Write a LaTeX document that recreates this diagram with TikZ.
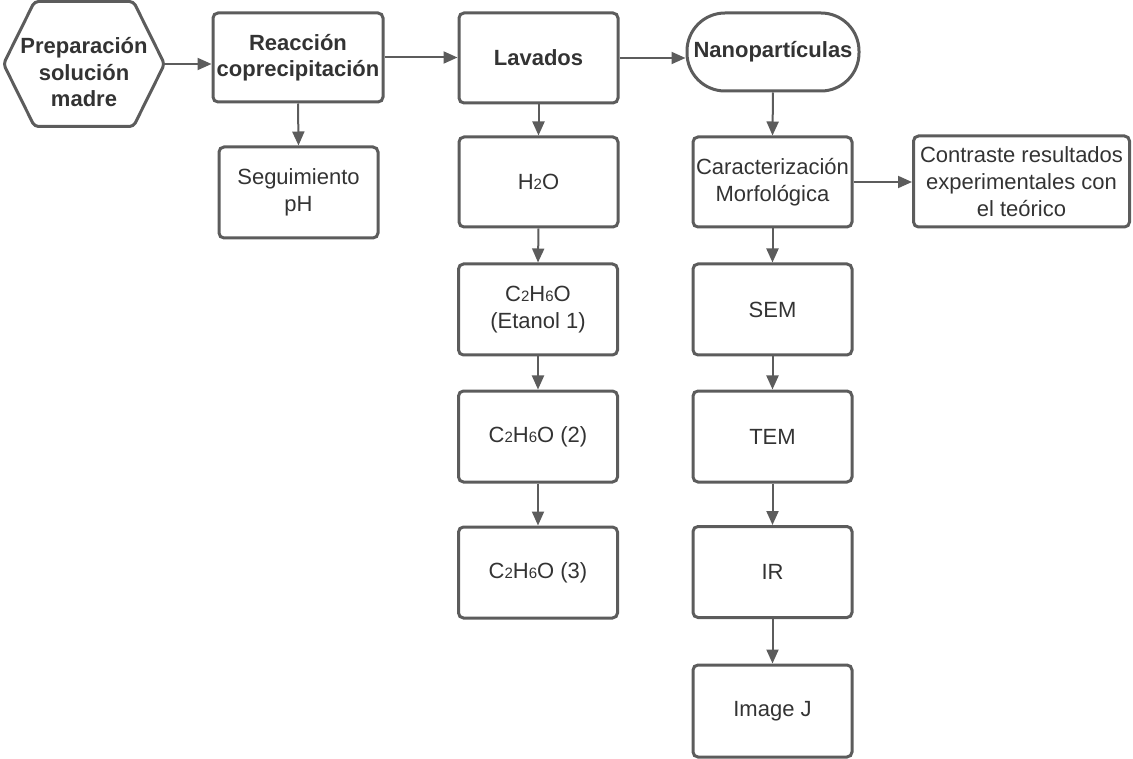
\documentclass[tikz,border=0pt]{standalone}
\usepackage{fontspec}
\setmainfont{Liberation Sans}
\usetikzlibrary{arrows.meta,calc}
\definecolor{linec}{HTML}{5C5C5C}
\definecolor{textc}{HTML}{333333}
\newcommand\sbd[1]{{\fontsize{15}{15}\selectfont #1}}
\tikzset{
  box/.style={draw=linec, line width=3pt, rounded corners=5pt, minimum width=159pt, minimum height=90pt,
    inner sep=0pt, align=center, text=textc, font=\fontsize{22}{27}\selectfont},
  boldbox/.style={box, font=\fontsize{22}{26.5}\selectfont\bfseries},
  conn/.style={draw=linec, line width=2pt, -{Triangle[length=14pt,width=12pt]}},
}
\begin{document}
\begin{tikzpicture}[x=1pt,y=-1pt]
\useasboundingbox (0,0) rectangle (1133,759);
% hexagon
\node[boldbox, draw=none, minimum width=158pt, minimum height=122pt] (prep) at (84,64) {\rule{0pt}{33pt}Preparación\\solución\\madre};
\draw[linec, line width=3pt, rounded corners=4pt]
  (prep.west) -- ($(prep.north west)+(31,0)$) -- ($(prep.north east)+(-31,0)$) -- (prep.east)
  -- ($(prep.south east)+(-31,0)$) -- ($(prep.south west)+(31,0)$) -- cycle;
\node[boldbox, minimum width=170pt, minimum height=89pt] (reac) at (298,57.5) {Reacción\\coprecipitación};
\node[box, minimum height=91pt] (seg) at (298.5,192.5) {Seguimiento\\pH};
\node[boldbox] (lav) at (538.5,58) {Lavados};
\node[boldbox, minimum width=172pt, minimum height=78pt, rounded corners=38pt] (nano) at (773,52) {Nanopartículas};
\node[box] (h2o) at (538.5,182) {H\sbd{2}O};
\node[box] (car) at (772.5,182) {Caracterización\\Morfológica};
\node[box, minimum width=216pt, minimum height=91pt] (con) at (1021.5,181.5) {Contraste resultados\\experimentales con\\el teórico};
\node[box, minimum height=91pt] (e1) at (538,309.5) {C\sbd{2}H\sbd{6}O\\(Etanol 1)};
\node[box, minimum height=91pt] (e2) at (538,436.5) {C\sbd{2}H\sbd{6}O (2)};
\node[box, minimum height=91pt] (e3) at (538,572.5) {C\sbd{2}H\sbd{6}O (3)};
\node[box, minimum height=91pt] (sem) at (772.5,309.5) {SEM};
\node[box, minimum height=91pt] (tem) at (772.5,436.5) {TEM};
\node[box, minimum height=91pt] (ir) at (772.5,572) {IR};
\node[box, minimum height=92pt] (imj) at (772.5,711) {Image J};
% connectors
\draw[conn] (prep.east) -- (prep.east -| reac.west);
\draw[conn] (reac.east) -- (reac.east -| lav.west);
\draw[conn] (lav.east) -- (lav.east -| nano.west);
\draw[conn] (reac.south) -- (seg.north);
\draw[conn] (lav.south) -- (h2o.north);
\draw[conn] (h2o.south) -- (e1.north);
\draw[conn] (e1.south) -- (e2.north);
\draw[conn] (e2.south) -- (e3.north);
\draw[conn] (nano.south) -- (car.north);
\draw[conn] (car.east) -- (car.east -| con.west);
\draw[conn] (car.south) -- (sem.north);
\draw[conn] (sem.south) -- (tem.north);
\draw[conn] (tem.south) -- (ir.north);
\draw[conn] (ir.south) -- (imj.north);
\end{tikzpicture}
\end{document}
